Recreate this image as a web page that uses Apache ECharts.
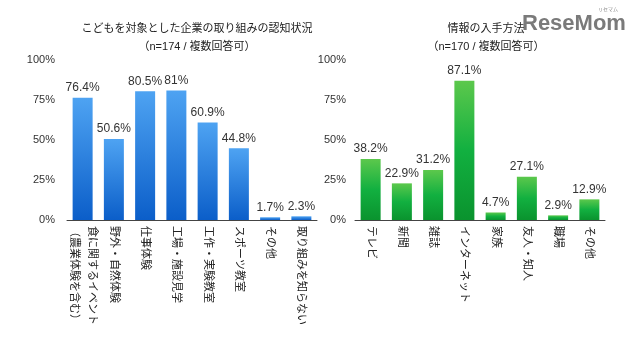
<!DOCTYPE html>
<html><head><meta charset="utf-8">
<script src="https://cdn.jsdelivr.net/npm/echarts@6/dist/echarts.min.js"></script>
<style>html,body{margin:0;padding:0;background:#fff}#c{width:640px;height:360px}</style>
</head><body><div id="c"></div>
<script>
const title1 = 'こどもを対象とした企業の取り組みの認知状況\n（n=174 / 複数回答可）';
const title2 = '情報の入手方法\n（n=170 / 複数回答可）';
const cats1 = ['食に関するイベント\n（農業体験を含む）','野外・自然体験','仕事体験','工場・施設見学','工作・実験教室','スポーツ教室','その他','取り組みを知らない'];
const vals1 = [76.4, 50.6, 80.5, 81, 60.9, 44.8, 1.7, 2.3];
const cats2 = ['テレビ','新聞','雑誌','インターネット','家族','友人・知人','職場','その他'];
const vals2 = [38.2, 22.9, 31.2, 87.1, 4.7, 27.1, 2.9, 12.9];
const yTicks = [0, 25, 50, 75, 100];

const FONT = '"Liberation Sans", "Noto Sans CJK JP", sans-serif';
const blue = {type:'linear',x:0,y:0,x2:0,y2:1,colorStops:[{offset:0,color:'#4ea3f2'},{offset:1,color:'#0b5ec9'}]};
const green = {type:'linear',x:0,y:0,x2:0,y2:1,colorStops:[{offset:0,color:'#5cc84c'},{offset:0.5,color:'#12b040'},{offset:1,color:'#0a932e'}]};

function yAxis(idx, margin){
  return {type:'value', gridIndex:idx, min:yTicks[0], max:yTicks[yTicks.length-1], interval:25,
    axisLine:{show:false}, axisTick:{show:false}, splitLine:{show:false},
    axisLabel:{formatter:'{value}%', color:'#333', fontSize:11, fontFamily:FONT, margin:margin}};
}
function xAxis(idx, cats){
  return {type:'category', gridIndex:idx, data:cats,
    axisLine:{show:true, lineStyle:{color:'#444', width:1}}, axisTick:{show:false},
    axisLabel:{rotate:-90, interval:0, color:'#222', fontSize:11, fontFamily:FONT, margin:6, lineHeight:18}};
}
function series(idx, vals, color){
  return {type:'bar', xAxisIndex:idx, yAxisIndex:idx, data:vals, barWidth:20,
    itemStyle:{color:color},
    label:{show:true, position:'top', formatter:'{c}%', color:'#333', fontSize:12, fontFamily:FONT, distance:4}};
}
const chart = echarts.init(document.getElementById('c'), null, {renderer:'canvas'});
chart.setOption({
  animation:false,
  backgroundColor:'#fff',
  title:[
    {text:title1, left:192, top:15, textAlign:'center', textStyle:{fontSize:11, fontWeight:'normal', color:'#222', fontFamily:FONT, lineHeight:18}},
    {text:title2, left:481, top:15, textAlign:'center', textStyle:{fontSize:11, fontWeight:'normal', color:'#222', fontFamily:FONT, lineHeight:18}}
  ],
  grid:[
    {left:67, right:323, top:60, bottom:140},
    {left:355, right:35, top:60, bottom:140}
  ],
  xAxis:[xAxis(0,cats1), xAxis(1,cats2)],
  yAxis:[yAxis(0,12), yAxis(1,9)],
  series:[series(0,vals1,blue), series(1,vals2,green)],
  graphic:[
    {type:'text', left:522, top:13, style:{text:'ReseMom', fontSize:22, fontWeight:'bold', fill:'#7a7a7a', fontFamily:'"Liberation Sans", sans-serif'}},
    {type:'text', left:598, top:7, style:{text:'リセマム', fontSize:5, fill:'#888', fontFamily:FONT}}
  ]
});
</script></body></html>
